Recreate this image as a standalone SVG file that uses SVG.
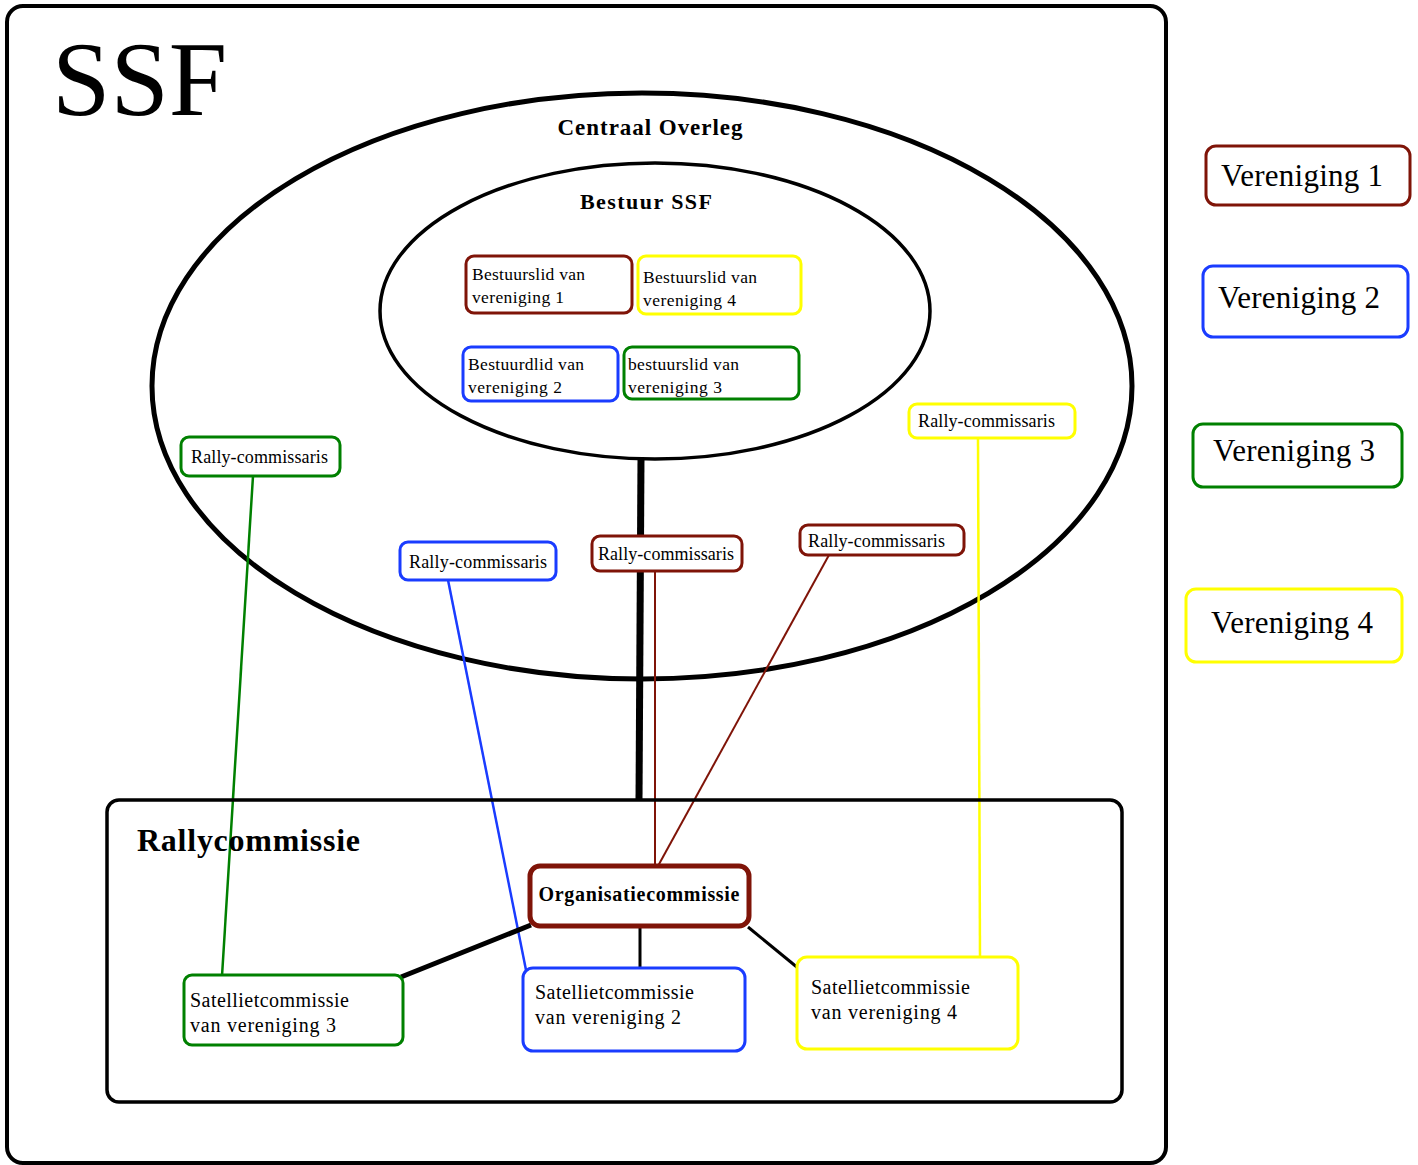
<svg xmlns="http://www.w3.org/2000/svg" width="1418" height="1165" viewBox="0 0 1418 1165">
<style>
text{font-family:"Liberation Serif","Times New Roman",serif;fill:#000}
.b{font-weight:bold}
.box{fill:#fff;stroke-width:3}
.red{stroke:#7f1408}
.blue{stroke:#1a3cff}
.green{stroke:#008000}
.yel{stroke:#ffff00}
.s16{font-size:17.5px}
.s17{font-size:18px}
.s19{font-size:20px}
.s30{font-size:31px}
</style>
<rect width="1418" height="1165" fill="#fff"/>
<g id="ssf">
<rect x="7" y="6" width="1159" height="1157" rx="16" fill="none" stroke="#000" stroke-width="4"/>
<text x="52" y="115" font-size="105">SSF</text>
</g>
<g id="centraal-overleg">
<ellipse cx="642" cy="386" rx="490" ry="293" fill="none" stroke="#000" stroke-width="5"/>
<text class="b" x="650" y="135" font-size="23" text-anchor="middle" textLength="185">Centraal Overleg</text>
</g>
<g id="connectors" fill="none">
<line x1="641" y1="458" x2="639" y2="801" stroke="#000" stroke-width="7"/>
<line x1="253" y1="476" x2="222" y2="976" stroke="#008000" stroke-width="2.5"/>
<line x1="448" y1="580" x2="526" y2="970" stroke="#1a3cff" stroke-width="2.5"/>
<line x1="655" y1="571" x2="655" y2="866" stroke="#7f1408" stroke-width="2"/>
<line x1="829" y1="555" x2="658" y2="866" stroke="#7f1408" stroke-width="2"/>
<line x1="978" y1="438" x2="980" y2="958" stroke="#ffff00" stroke-width="2.5"/>
<line x1="531" y1="925" x2="401" y2="977" stroke="#000" stroke-width="5"/>
<line x1="640" y1="926" x2="640" y2="968" stroke="#000" stroke-width="3"/>
<line x1="748" y1="927" x2="798" y2="968" stroke="#000" stroke-width="3"/>
</g>
<g id="bestuur-ssf">
<ellipse cx="655" cy="311" rx="275" ry="148" fill="none" stroke="#000" stroke-width="3.5"/>
<text class="b" x="646" y="209" font-size="22" text-anchor="middle" textLength="132">Bestuur SSF</text>
</g>
<g id="bestuurslid-1">
<rect class="box red" x="466" y="256" width="166" height="57" rx="8"/>
<text class="s16" x="472" y="280" textLength="113">Bestuurslid van</text>
<text class="s16" x="472" y="303" textLength="92">vereniging 1</text>
</g>
<g id="bestuurslid-4">
<rect class="box yel" x="638" y="256" width="163" height="58" rx="8"/>
<text class="s16" x="643" y="283" textLength="114">Bestuurslid van</text>
<text class="s16" x="643" y="306" textLength="93">vereniging 4</text>
</g>
<g id="bestuurdlid-2">
<rect class="box blue" x="463" y="347" width="155" height="54" rx="8"/>
<text class="s16" x="468" y="370" textLength="116">Bestuurdlid van</text>
<text class="s16" x="468" y="393" textLength="94">vereniging 2</text>
</g>
<g id="bestuurslid-3">
<rect class="box green" x="624" y="347" width="175" height="52" rx="8"/>
<text class="s16" x="628" y="370" textLength="111">bestuurslid van</text>
<text class="s16" x="628" y="393" textLength="94">vereniging 3</text>
</g>
<g id="rally-green">
<rect class="box green" x="181" y="437" width="159" height="39" rx="8"/>
<text class="s17" x="191" y="463" textLength="137">Rally-commissaris</text>
</g>
<g id="rally-yellow">
<rect class="box yel" x="909" y="404" width="166" height="34" rx="8"/>
<text class="s17" x="918" y="427" textLength="137">Rally-commissaris</text>
</g>
<g id="rally-blue">
<rect class="box blue" x="400" y="542" width="156" height="38" rx="8"/>
<text class="s17" x="409" y="568" textLength="138">Rally-commissaris</text>
</g>
<g id="rally-red-1">
<rect class="box red" x="592" y="536" width="150" height="35" rx="8"/>
<text class="s17" x="598" y="560" textLength="136">Rally-commissaris</text>
</g>
<g id="rally-red-2">
<rect class="box red" x="800" y="525" width="164" height="30" rx="8"/>
<text class="s17" x="808" y="547" textLength="137">Rally-commissaris</text>
</g>
<g id="rallycommissie">
<rect x="107" y="800" width="1015" height="302" rx="12" fill="none" stroke="#000" stroke-width="3.5"/>
<text class="b" x="137" y="851" font-size="32" textLength="223">Rallycommissie</text>
</g>
<g id="organisatiecommissie">
<rect x="530" y="866" width="219" height="60" rx="10" fill="#fff" stroke="#7f1408" stroke-width="5"/>
<text class="b" x="639" y="901" font-size="20" text-anchor="middle" textLength="201">Organisatiecommissie</text>
</g>
<g id="satelliet-3">
<rect class="box green" x="184" y="975" width="219" height="70" rx="8"/>
<text class="s19" x="190" y="1007" textLength="159">Satellietcommissie</text>
<text class="s19" x="190" y="1032" textLength="146">van vereniging 3</text>
</g>
<g id="satelliet-2">
<rect class="box blue" x="523" y="968" width="222" height="83" rx="10"/>
<text class="s19" x="535" y="999" textLength="159">Satellietcommissie</text>
<text class="s19" x="535" y="1024" textLength="146">van vereniging 2</text>
</g>
<g id="satelliet-4">
<rect class="box yel" x="797" y="957" width="221" height="92" rx="10"/>
<text class="s19" x="811" y="994" textLength="159">Satellietcommissie</text>
<text class="s19" x="811" y="1019" textLength="146">van vereniging 4</text>
</g>
<g id="vereniging-1">
<rect class="box red" x="1206" y="146" width="204" height="59" rx="10" stroke-width="4"/>
<text class="s30" x="1221" y="186" textLength="162">Vereniging 1</text>
</g>
<g id="vereniging-2">
<rect class="box blue" x="1203" y="266" width="205" height="71" rx="10" stroke-width="4"/>
<text class="s30" x="1218" y="308" textLength="162">Vereniging 2</text>
</g>
<g id="vereniging-3">
<rect class="box green" x="1193" y="424" width="209" height="63" rx="10" stroke-width="4"/>
<text class="s30" x="1213" y="461" textLength="162">Vereniging 3</text>
</g>
<g id="vereniging-4">
<rect class="box yel" x="1186" y="589" width="216" height="73" rx="10" stroke-width="4"/>
<text class="s30" x="1211" y="633" textLength="162">Vereniging 4</text>
</g>
</svg>
